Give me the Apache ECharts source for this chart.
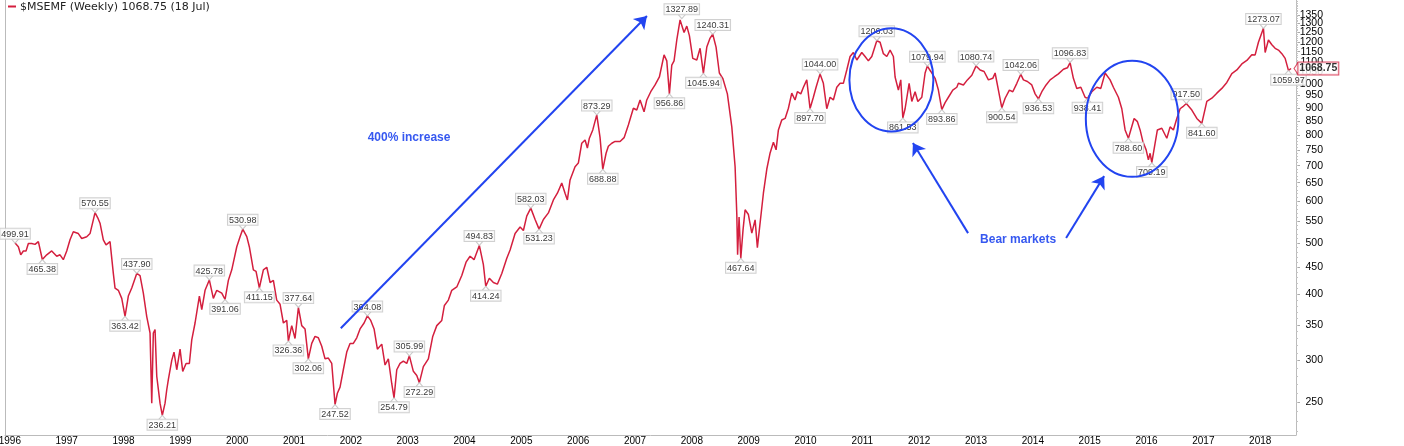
<!DOCTYPE html>
<html><head><meta charset="utf-8">
<script src="https://cdn.jsdelivr.net/npm/echarts@6/dist/echarts.min.js"></script>
<style>html,body{margin:0;padding:0;background:#fff}#c{width:1404px;height:446px}</style>
</head><body><div id="c"></div>
<script>
const dateYears = [
1996.092,1996.150,1996.192,1996.238,1996.285,1996.326,1996.385,1996.443,1996.502,1996.572,
1996.649,1996.737,1996.825,1996.883,1996.941,1997.001,1997.059,1997.117,1997.205,1997.265,
1997.353,1997.411,1997.469,1997.499,1997.547,1997.587,1997.645,1997.693,1997.763,1997.821,
1997.851,1997.909,1997.969,1998.027,1998.085,1998.145,1998.233,1998.291,1998.349,1998.409,
1998.467,1998.497,1998.525,1998.555,1998.585,1998.643,1998.683,1998.731,1998.761,1998.789,
1998.849,1998.889,1998.937,1998.995,1999.042,1999.101,1999.159,1999.201,1999.259,1999.335,
1999.377,1999.435,1999.510,1999.581,1999.641,1999.729,1999.787,1999.845,1999.905,1999.993,
2000.051,2000.098,2000.169,2000.214,2000.285,2000.332,2000.390,2000.461,2000.521,2000.579,
2000.637,2000.696,2000.755,2000.813,2000.872,2000.901,2000.960,2001.018,2001.077,2001.136,
2001.194,2001.252,2001.312,2001.370,2001.428,2001.488,2001.546,2001.604,2001.664,2001.722,
2001.763,2001.810,2001.868,2001.928,2001.986,2002.044,2002.104,2002.162,2002.233,2002.291,
2002.350,2002.409,2002.467,2002.544,2002.602,2002.660,2002.720,2002.760,2002.808,2002.866,
2002.924,2002.984,2003.030,2003.100,2003.160,2003.206,2003.276,2003.364,2003.441,2003.512,
2003.600,2003.646,2003.716,2003.776,2003.864,2003.952,2004.027,2004.098,2004.168,2004.261,
2004.332,2004.374,2004.437,2004.508,2004.578,2004.656,2004.744,2004.802,2004.890,2004.978,
2005.036,2005.095,2005.166,2005.242,2005.312,2005.388,2005.476,2005.564,2005.634,2005.711,
2005.769,2005.810,2005.857,2005.945,2006.003,2006.063,2006.121,2006.162,2006.197,2006.257,
2006.327,2006.385,2006.433,2006.491,2006.531,2006.591,2006.649,2006.737,2006.808,2006.883,
2006.971,2007.031,2007.089,2007.159,2007.207,2007.277,2007.353,2007.429,2007.511,2007.559,
2007.605,2007.647,2007.687,2007.735,2007.793,2007.823,2007.863,2007.911,2007.957,2008.016,
2008.087,2008.145,2008.203,2008.263,2008.321,2008.368,2008.426,2008.484,2008.544,2008.625,
2008.703,2008.761,2008.791,2008.805,2008.831,2008.861,2008.901,2008.937,2008.995,2009.055,
2009.113,2009.153,2009.188,2009.259,2009.319,2009.377,2009.435,2009.482,2009.523,2009.582,
2009.641,2009.699,2009.758,2009.816,2009.857,2009.917,2009.963,2010.022,2010.080,2010.138,
2010.186,2010.256,2010.314,2010.374,2010.432,2010.490,2010.550,2010.608,2010.666,2010.726,
2010.784,2010.842,2010.902,2010.990,2011.048,2011.106,2011.166,2011.254,2011.312,2011.370,
2011.430,2011.488,2011.546,2011.576,2011.634,2011.676,2011.712,2011.752,2011.823,2011.870,
2011.928,2011.976,2012.046,2012.104,2012.144,2012.204,2012.280,2012.338,2012.398,2012.456,
2012.514,2012.591,2012.662,2012.690,2012.778,2012.848,2012.926,2013.001,2013.072,2013.142,
2013.218,2013.295,2013.336,2013.394,2013.454,2013.512,2013.587,2013.647,2013.718,2013.788,
2013.834,2013.904,2013.981,2014.040,2014.098,2014.158,2014.233,2014.304,2014.374,2014.450,
2014.538,2014.608,2014.655,2014.713,2014.773,2014.844,2014.919,2014.960,2015.037,2015.125,
2015.196,2015.271,2015.301,2015.359,2015.417,2015.505,2015.565,2015.623,2015.681,2015.723,
2015.782,2015.840,2015.887,2015.935,2015.993,2016.033,2016.063,2016.093,2016.151,2016.191,
2016.269,2016.357,2016.415,2016.473,2016.533,2016.591,2016.640,2016.700,2016.797,2016.885,
2016.973,2017.061,2017.149,2017.237,2017.325,2017.413,2017.501,2017.589,2017.677,2017.765,
2017.853,2017.911,2017.969,2018.057,2018.087,2018.145,2018.205,2018.263,2018.321,2018.381,
2018.439,2018.497,2018.543];

const closeValues = [
499.91,492,475,483,483,499,499,497,503,465.38,
475,483,472,475,465,483,507,525,521,510,
514,521,553,570.55,558,545,507,496,503,438,
411,407,393,363.42,397,411,437.90,434,402,363,
338,249,338,343,280,249,236.21,249,264,276,
300,311,288,315,286,296,296,328,353,397,
374,407,425.78,393,407,402,391.06,425,445,492,
514,530.98,514,492,445,442,411.15,445,450,421,
425,390,383,353,357,326.36,349,330,377.64,349,
344,302.06,323,333,331,319,302,303,296,247.52,
260,267,288,311,323,323,331,344,353,364.08,
357,344,315,322,294,302,271,254.79,288,296,
299,296,305.99,286,281,272.29,292,302,333,349,
357,381,390,407,413,434,460,472,465,494.83,
455,414.24,429,421,418,438,468,485,521,536,
528,562,582.03,554,531.23,554,570,603,621,649,
621,603,658,697,708,772,783,756,789,818,
873.29,791,688.88,739,762,772,778,778,791,836,
899,892,932,885,932,966,995,1030,1134,1105,
956.86,1085,1105,1210,1320,1327.89,1250,1285,1233,1117,
1109,1167,1045.94,1173,1220,1240.31,1173,1048,1024,957,
829,697,566,475,560,467.64,530,578,566,522,
553,490,530,621,690,740,775,750,818,854,
860,899,960,932,966,957,985,1017,897.70,943,
985,1044.00,1002,897,943,932,985,1002,1002,1062,
1126,1146,1109,1146,1126,1105,1126,1206.03,1198,1140,
1126,1158,1126,1030,973,1017,861.53,897,1002,926,
966,926,943,1048,1079.94,1055,1024,973,893.86,921,
943,973,985,1002,995,1017,1038,1080.74,1062,1055,
1017,1024,1048,973,900.54,939,973,966,1002,1042.06,
1017,1010,995,957,936.53,966,995,1017,1030,1044,
1065,1072,1096.83,1024,980,985,943,938.41,966,985,
980,1048,1055,1017,985,943,897,818,788.60,818,
860,848,818,778,750,718,739,709.19,772,818,
824,789,829,818,860,897,905,917.50,892,860,
841.60,926,939,960,980,1006,1045,1062,1090,1107,
1135,1134,1198,1273.07,1146,1210,1185,1167,1158,1140,
1117,1059.97,1068.75];

// Annotated peaks (label above) and troughs (label below): [decimal year, value]
const peakPoints = [
[1996.092,499.91],[1997.499,570.55],[1998.233,437.90],[1999.510,425.78],[2000.098,530.98],
[2001.077,377.64],[2002.291,364.08],[2003.030,305.99],[2004.261,494.83],[2005.166,582.03],
[2006.327,873.29],[2007.823,1327.89],[2008.368,1240.31],[2010.256,1044.00],[2011.254,1206.03],
[2012.144,1079.94],[2013.001,1080.74],[2013.788,1042.06],[2014.655,1096.83],[2016.700,917.50],
[2018.057,1273.07]];
const troughPoints = [
[1996.572,465.38],[1998.027,363.42],[1998.683,236.21],[1999.787,391.06],[2000.390,411.15],
[2000.901,326.36],[2001.252,302.06],[2001.722,247.52],[2002.760,254.79],[2003.206,272.29],
[2004.374,414.24],[2005.312,531.23],[2006.433,688.88],[2007.605,956.86],[2008.203,1045.94],
[2008.861,467.64],[2010.080,897.70],[2011.712,861.53],[2012.398,893.86],[2013.454,900.54],
[2014.098,936.53],[2014.960,938.41],[2015.681,788.60],[2016.093,709.19],[2016.973,841.60],
[2018.497,1059.97]];
const lastPoint = [2018.543, 1068.75];

const yearTicks = [1996,1997,1998,1999,2000,2001,2002,2003,2004,2005,2006,2007,2008,2009,2010,2011,2012,2013,2014,2015,2016,2017,2018];
const priceTicks = [250,300,350,400,450,500,550,600,650,700,750,800,850,900,950,1000,1050,1100,1150,1200,1250,1300,1350];
const minorPriceTicks = [];
for (let v = 220; v <= 1430; v += 10) minorPriceTicks.push(v);

// Axis range
const xRange = [1995.915, 2018.63];
const yRange = [216.8, 1440];

// Annotations (data space)
const arrows = [
  [[2001.823, 345], [2007.21, 1343]],
  [[2012.86, 522], [2011.89, 773]],
  [[2014.585, 511], [2015.254, 669]]
];
const ellipses = [
  {x0: 2010.772, x1: 2012.250, v0: 812, v1: 1273},
  {x0: 2014.932, x1: 2016.561, v0: 667, v1: 1106}
];
const notes = [
  {text: '400% increase', x: 2003.024, v: 790},
  {text: 'Bear markets', x: 2013.740, v: 507}
];

const BLUE = '#2244f0';
const RED = '#d41f3e';
const lineData = dateYears.map((d, i) => [d, closeValues[i]]);

// split price labels across two overlaid axes so that crowded labels near the top are all kept
const priceTicksA = priceTicks.filter((v, i) => i % 2 === 0);
const priceTicksB = priceTicks.filter((v, i) => i % 2 === 1);

const labelStyle = {
  fontFamily: 'Liberation Sans', fontSize: 9, color: '#000', lineHeight: 9,
  backgroundColor: '#fff', borderColor: '#c4c4c4', borderWidth: 1, padding: [1, 1, 0, 1]
};

function labelSeries(list, up) {
  return {
    type: 'scatter', yAxisIndex: 0, silent: true, z: 4,
    symbol: up ? 'path://M0,0L5,6L10,0' : 'path://M0,6L5,0L10,6',
    symbolSize: [7, 4], symbolOffset: [0, up ? -2 : 2],
    itemStyle: {color: 'rgba(0,0,0,0)', borderColor: '#bdbdbd', borderWidth: 1},
    label: Object.assign({show: true, position: up ? 'top' : 'bottom', distance: 0,
      formatter: p => p.value[1].toFixed(2)}, labelStyle),
    emphasis: {disabled: true},
    data: list.map(d => [d[0], d[1]])
  };
}

function priceAxis(ticks, withLine) {
  return {type: 'log', logBase: 10, position: 'right', min: yRange[0], max: yRange[1],
    axisLine: {show: withLine, lineStyle: {color: '#bbb'}},
    axisTick: {show: true, customValues: ticks, length: 4, lineStyle: {color: '#aaa'}},
    axisLabel: {customValues: ticks, formatter: v => String(Math.round(v)), align: 'right', margin: 27,
      showMinLabel: true, showMaxLabel: true, hideOverlap: false,
      fontFamily: 'Liberation Sans', fontSize: 10.5, color: '#000'},
    splitLine: {show: false}};
}

const chart = echarts.init(document.getElementById('c'), null, {renderer: 'canvas'});
const option = {
  animation: false,
  backgroundColor: '#fff',
  grid: {left: 5, right: 108, top: 0, bottom: 11, containLabel: false, outerBoundsMode: 'none'},
  xAxis: {
    type: 'value', min: xRange[0], max: xRange[1],
    axisLine: {show: true, lineStyle: {color: '#bbb'}},
    axisTick: {show: true, customValues: yearTicks, length: 2, lineStyle: {color: '#bbb'}},
    axisLabel: {customValues: yearTicks, formatter: v => String(Math.round(v)), showMinLabel: true, showMaxLabel: true,
      hideOverlap: false, margin: 1, fontFamily: 'Liberation Sans', fontSize: 10, color: '#000'},
    splitLine: {show: false}
  },
  yAxis: [
    priceAxis(priceTicksA, true),
    priceAxis(priceTicksB, false),
    {type: 'log', logBase: 10, position: 'right', min: yRange[0], max: yRange[1],
      axisLine: {show: false},
      axisTick: {show: true, customValues: minorPriceTicks, length: 2, lineStyle: {color: '#c4c4c4'}},
      axisLabel: {show: false}, splitLine: {show: false}},
    {type: 'log', logBase: 10, position: 'left', min: yRange[0], max: yRange[1],
      axisLine: {show: true, lineStyle: {color: '#bbb'}},
      axisTick: {show: false}, axisLabel: {show: false}, splitLine: {show: false}}
  ],
  series: [
    {type: 'line', yAxisIndex: 0, data: lineData, showSymbol: false, symbol: 'none', z: 3,
      lineStyle: {color: RED, width: 1.5}, silent: true,
      markLine: {
        silent: true, symbol: ['none', 'arrow'], symbolSize: 12,
        label: {show: false},
        lineStyle: {color: BLUE, width: 2, type: 'solid'},
        emphasis: {disabled: true},
        data: arrows.map(a => [{coord: [a[0][0], a[0][1]]}, {coord: [a[1][0], a[1][1]]}])
      }},
    labelSeries(peakPoints, true),
    labelSeries(troughPoints, false),
    {type: 'scatter', yAxisIndex: 0, silent: true, z: 10,
      symbol: 'path://M6,0L0,6L6,12', symbolSize: [4, 12], symbolOffset: [5, 0],
      itemStyle: {color: '#fff', borderColor: RED, borderWidth: 1},
      label: {show: true, position: 'right', distance: 0, formatter: p => p.value[1].toFixed(2),
        fontFamily: 'Liberation Sans', fontWeight: 'bold', fontSize: 10.5, color: '#000', lineHeight: 11,
        backgroundColor: '#fff', borderColor: RED, borderWidth: 1, padding: [1, 1, 0, 1]},
      emphasis: {disabled: true},
      data: [[lastPoint[0], lastPoint[1]]]}
  ]
};
chart.setOption(option);

function px(y, v) { return chart.convertToPixel({seriesIndex: 0}, [y, v]); }
const graphics = [
  {type: 'line', shape: {x1: 8, y1: 6.5, x2: 16, y2: 6.5}, style: {stroke: RED, lineWidth: 2}, z: 100},
  {type: 'text', x: 20, y: 7, z: 100, style: {text: '$MSEMF (Weekly) 1068.75 (18 Jul)', font: '11px "DejaVu Sans"',
    fill: '#222', verticalAlign: 'middle', align: 'left'}}
];
ellipses.forEach(e => {
  const p0 = px(e.x0, e.v1), p1 = px(e.x1, e.v0);
  graphics.push({type: 'ellipse', z: 50, silent: true,
    shape: {cx: (p0[0] + p1[0]) / 2, cy: (p0[1] + p1[1]) / 2, rx: Math.abs(p1[0] - p0[0]) / 2, ry: Math.abs(p1[1] - p0[1]) / 2},
    style: {fill: 'none', stroke: BLUE, lineWidth: 2}});
});
notes.forEach(n => {
  const p = px(n.x, n.v);
  graphics.push({type: 'text', x: p[0], y: p[1], z: 50, silent: true,
    style: {text: n.text, font: 'bold 12px "Liberation Sans"', fill: '#3658f0', align: 'center', verticalAlign: 'middle'}});
});
chart.setOption({graphic: graphics});
</script>
</body></html>
